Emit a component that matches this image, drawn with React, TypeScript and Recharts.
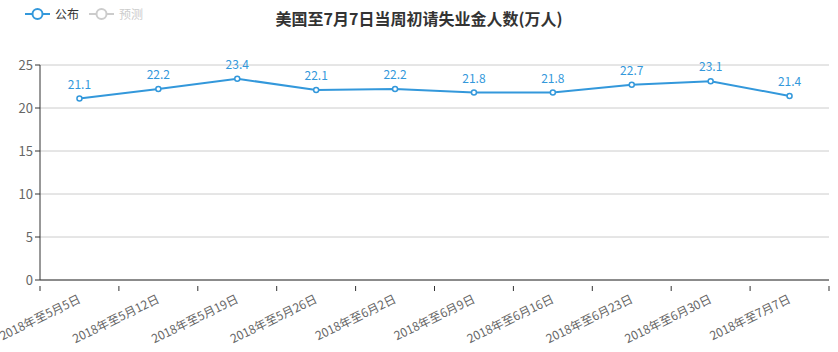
import { LineChart, Line, XAxis, YAxis, CartesianGrid, LabelList } from 'recharts'

const weeks = [
  '2018年至5月5日',
  '2018年至5月12日',
  '2018年至5月19日',
  '2018年至5月26日',
  '2018年至6月2日',
  '2018年至6月9日',
  '2018年至6月16日',
  '2018年至6月23日',
  '2018年至6月30日',
  '2018年至7月7日',
]
const published = [21.1, 22.2, 23.4, 22.1, 22.2, 21.8, 21.8, 22.7, 23.1, 21.4]
const yTicks = [0, 5, 10, 15, 20, 25]
const legendItems = [
  { name: '公布', color: '#3398db', text: '#333' },
  { name: '预测', color: '#ccc', text: '#ccc' },
]

const data = weeks.map((week, i) => ({ week, published: published[i] }))

const W = 838
const H = 352
const MARGIN = { top: 65, right: 9, left: 0, bottom: 0 }
const Y_WIDTH = 40
const BAND = (W - MARGIN.left - MARGIN.right - Y_WIDTH) / weeks.length
const FONT = '"Noto Sans CJK SC", "Noto Sans", sans-serif'

function WeekTick(props: any) {
  const { x, y, payload, index } = props
  const last = index === weeks.length - 1
  const lx = x + 2
  const ly = y + 14
  return (
    <g>
      <line x1={x - BAND / 2} x2={x - BAND / 2} y1={y - 2} y2={y + 3} stroke="#333" />
      {last && <line x1={x + BAND / 2} x2={x + BAND / 2} y1={y - 2} y2={y + 3} stroke="#333" />}
      <text
        x={lx}
        y={ly}
        textAnchor="end"
        fill="#666"
        fontSize={12}
        fontFamily={FONT}
        transform={`rotate(-26, ${lx}, ${ly})`}
      >
        {payload.value}
      </text>
    </g>
  )
}

function TopLegend() {
  return (
    <div
      style={{
        position: 'absolute',
        top: 7,
        left: 25,
        display: 'flex',
        gap: 10,
        fontFamily: FONT,
        fontSize: 12,
        lineHeight: '14px',
      }}
    >
      {legendItems.map((it) => (
        <div key={it.name} style={{ display: 'flex', alignItems: 'center', gap: 5 }}>
          <svg width={25} height={14}>
            <line x1={0} x2={25} y1={7} y2={7} stroke={it.color} strokeWidth={2} />
            <circle cx={12.5} cy={7} r={5} fill="#fff" stroke={it.color} strokeWidth={2} />
          </svg>
          <span style={{ color: it.text }}>{it.name}</span>
        </div>
      ))}
    </div>
  )
}

export default function App() {
  return (
    <div style={{ position: 'absolute', left: 0, top: 0, width: W, height: H, background: '#fff' }}>
      <LineChart width={W} height={H} data={data} margin={MARGIN}>
        <CartesianGrid vertical={false} stroke="#ccc" />
        <XAxis
          dataKey="week"
          scale="band"
          height={72}
          interval={0}
          stroke="#333"
          tickLine={false}
          tick={<WeekTick />}
        />
        <YAxis
          width={Y_WIDTH}
          domain={[0, 25]}
          ticks={yTicks}
          stroke="#333"
          tick={{ fill: '#666', fontSize: 13, fontFamily: FONT }}
          tickSize={5}
        />
        <Line
          dataKey="published"
          stroke="#3398db"
          strokeWidth={2}
          dot={{ r: 2.5, fill: '#fff', stroke: '#3398db', strokeWidth: 1.5 }}
          isAnimationActive={false}
        >
          <LabelList dataKey="published" position="top" offset={10} fill="#3398db" fontSize={12} fontFamily={FONT} />
        </Line>
      </LineChart>
      <TopLegend />
      <div
        style={{
          position: 'absolute',
          top: 6,
          left: 0,
          width: W,
          textAlign: 'center',
          fontFamily: FONT,
          fontWeight: 'bold',
          fontSize: 16,
          color: '#333',
        }}
      >
        美国至7月7日当周初请失业金人数(万人)
      </div>
    </div>
  )
}
